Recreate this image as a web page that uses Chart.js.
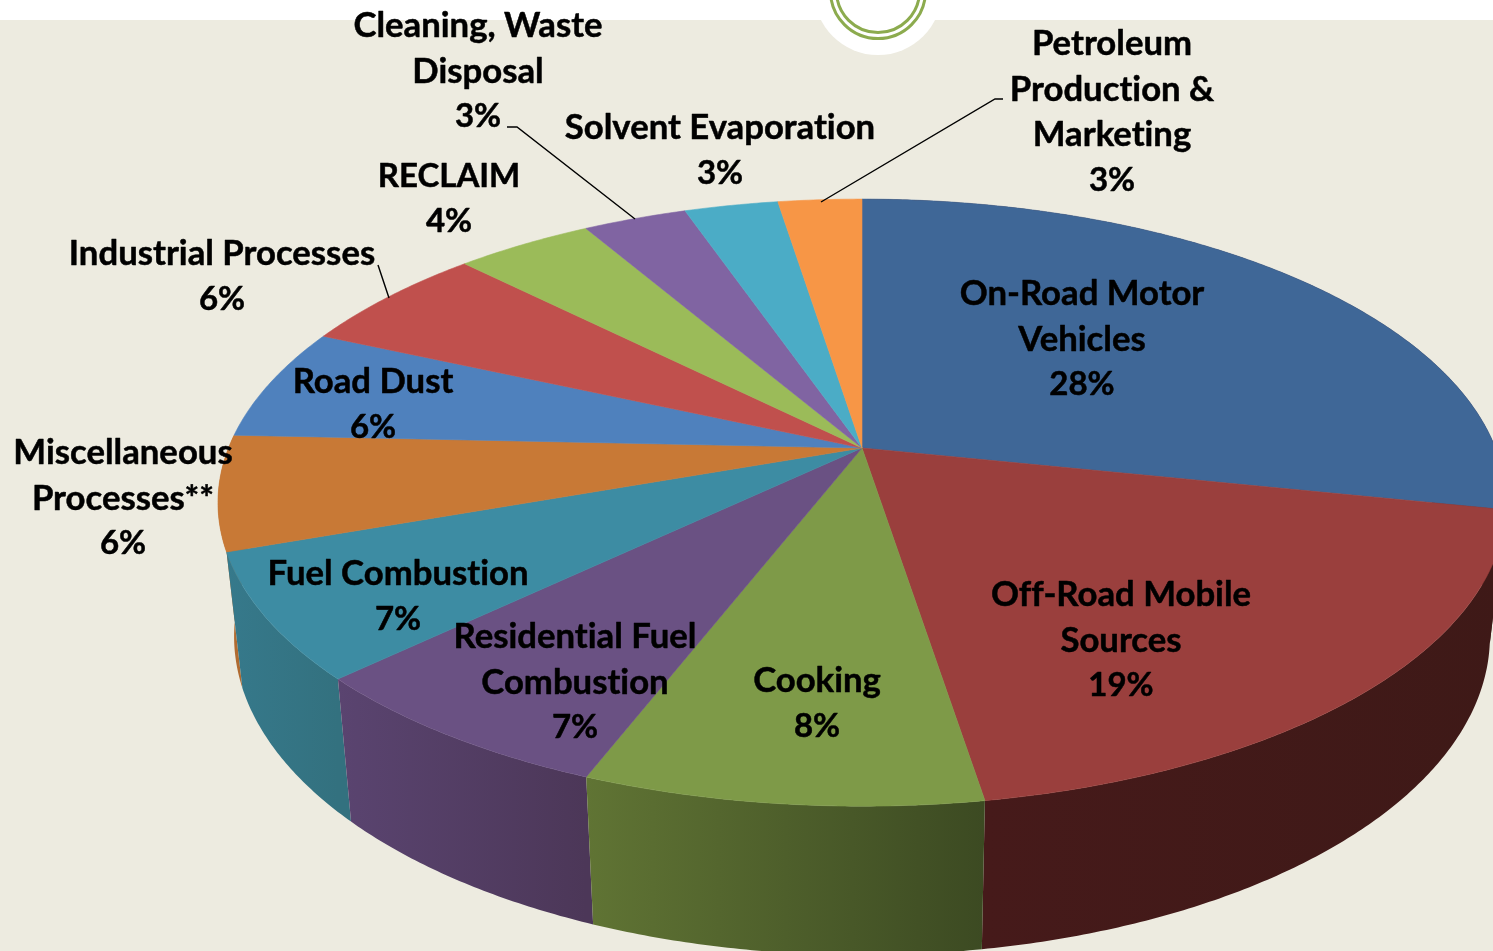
<!DOCTYPE html>
<html><head><meta charset="utf-8">
<style>
html,body{margin:0;padding:0;width:1493px;height:951px;overflow:hidden;background:#edebe0;}
#bar{position:absolute;left:0;top:0;width:1493px;height:20px;background:#fff;}
.c{position:absolute;border-radius:50%;box-sizing:border-box;}
#c1{left:814px;top:-73px;width:128px;height:128px;background:#fff;}
#c2{left:829px;top:-58px;width:98px;height:98px;border:3.5px solid #8cab4e;}
#c3{left:835px;top:-52px;width:86px;height:86px;border:3.5px solid #8cab4e;}
canvas{position:absolute;left:0;top:0;}
</style></head>
<body>
<div id="bar"></div><div class="c" id="c1"></div><div class="c" id="c2"></div><div class="c" id="c3"></div>
<canvas id="chart" width="1493" height="951"></canvas>
<script src="https://cdn.jsdelivr.net/npm/chart.js@4"></script>
<script>
const categories = ["On-Road Motor Vehicles","Off-Road Mobile Sources","Cooking","Residential Fuel Combustion","Fuel Combustion","Miscellaneous Processes**","Road Dust","Industrial Processes","RECLAIM","Cleaning, Waste Disposal","Solvent Evaporation","Petroleum Production & Marketing"];
const shares = [28.25, 19.2, 8.45, 7, 6.7, 6.1, 6, 5.8, 4.1, 3.1, 2.8, 2.5];
const shareLabels = ["28%","19%","8%","7%","7%","6%","6%","6%","4%","3%","3%","3%"];
const sliceColors = ["#3f6797","#9a3f3d","#7e9a48","#6a5183","#3d8ca3","#c87936","#4f81bd","#c0504d","#9bbb59","#8064a2","#4bacc6","#f79646"];
const wallStart = ["#401a18","#461a1a","#607434","#5a4470","#36798b","#b06a30",null,null,null,null,null,null];
const wallEnd   = ["#401a18","#3e1917","#3c4a22","#4c3758","#33717f","#b06a30",null,null,null,null,null,null];
const labelLines = [["On-Road Motor","Vehicles"],["Off-Road Mobile","Sources"],["Cooking"],["Residential Fuel","Combustion"],["Fuel Combustion"],["Miscellaneous","Processes**"],["Road Dust"],["Industrial Processes"],["RECLAIM"],["Cleaning, Waste","Disposal"],["Solvent Evaporation"],["Petroleum","Production &","Marketing"]];
const labelAt = [[1082,294],[1121,595],[817,681],[575,637],[398,574],[123,453],[373,382],[222,254],[449,176],[478,26],[720,128],[1112,44]];
const leaders = [[[378,265],[389,298]],[[507,127],[517,127],[635,219]],[[1003,99],[995,99],[821,202]]];

const cx=862, cy=448, R=633.5, S=293.7, P=0.18;
function proj(a){const t=a+Math.PI/2,u=Math.sin(t),v=-Math.cos(t),w=1-P*v;return [cx+R*u/w,cy+S*v/w];}
function projLow(a){const q=proj(a);return [cx+0.975*(q[0]-cx),579+1.05*(q[1]-cy)];}
function samples(s,e,f){const n=Math.max(4,Math.ceil((e-s)*120)),o=[];for(let i=0;i<=n;i++)o.push(f(s+(e-s)*i/n));return o;}

Chart.ArcElement.prototype.draw=function(ctx){
  const col=this.options.backgroundColor;
  ctx.save();ctx.beginPath();ctx.moveTo(cx,cy);
  samples(this.startAngle,this.endAngle,proj).forEach(p=>ctx.lineTo(p[0],p[1]));
  ctx.closePath();ctx.fillStyle=col;ctx.strokeStyle=col;ctx.lineWidth=0.6;ctx.fill();ctx.stroke();ctx.restore();
};

const wallsPlugin={id:'walls',beforeDatasetsDraw(chart){
  const ctx=chart.ctx,arcs=chart.getDatasetMeta(0).data;
  const order=arcs.map((a,i)=>i).filter(i=>wallStart[i]);
  order.sort((a,b)=>proj((arcs[a].startAngle+arcs[a].endAngle)/2)[1]-proj((arcs[b].startAngle+arcs[b].endAngle)/2)[1]);
  order.forEach(i=>{
    const a=arcs[i],top=samples(a.startAngle,a.endAngle,proj),low=samples(a.startAngle,a.endAngle,projLow);
    const x0=top[top.length-1][0],x1=top[0][0];
    const g=ctx.createLinearGradient(Math.min(x0,x1),0,Math.max(x0,x1),0);
    g.addColorStop(0,wallStart[i]);g.addColorStop(1,wallEnd[i]);
    ctx.beginPath();
    top.forEach((p,k)=>k?ctx.lineTo(p[0],p[1]):ctx.moveTo(p[0],p[1]));
    low.reverse().forEach(p=>ctx.lineTo(p[0],p[1]));
    ctx.closePath();ctx.fillStyle=g;ctx.fill();
  });
}};

const labelsPlugin={id:'sliceLabels',afterDatasetsDraw(chart){
  const ctx=chart.ctx;ctx.save();
  ctx.strokeStyle='#000';ctx.lineWidth=1.4;
  leaders.forEach(l=>{ctx.beginPath();l.forEach((p,k)=>k?ctx.lineTo(p[0],p[1]):ctx.moveTo(p[0],p[1]));ctx.stroke();});
  ctx.fillStyle='#000';ctx.textAlign='center';ctx.textBaseline='middle';
  ctx.letterSpacing='0.01px';ctx.lineWidth=0.5;ctx.lineJoin='round';
  const big='bold 34.7px Lato',small='bold 33px Lato';
  categories.forEach((c,i)=>{
    const x=labelAt[i][0];
    labelLines[i].forEach((t,k)=>{
      const y=labelAt[i][1]+k*45.4;
      ctx.font=t===t.toUpperCase()?small:big;
      ctx.fillText(t,x,y);ctx.strokeText(t,x,y);
    });
    const y=labelAt[i][1]+labelLines[i].length*45.4;
    ctx.font=small;ctx.fillText(shareLabels[i],x,y);ctx.strokeText(shareLabels[i],x,y);
  });
  ctx.restore();
}};

new Chart(document.getElementById('chart'),{
  type:'pie',
  data:{labels:categories,datasets:[{data:shares,backgroundColor:sliceColors,borderWidth:0}]},
  options:{responsive:false,animation:false,events:[],
    plugins:{legend:{display:false},tooltip:{enabled:false}}},
  plugins:[wallsPlugin,labelsPlugin]
});
</script>
</body></html>
